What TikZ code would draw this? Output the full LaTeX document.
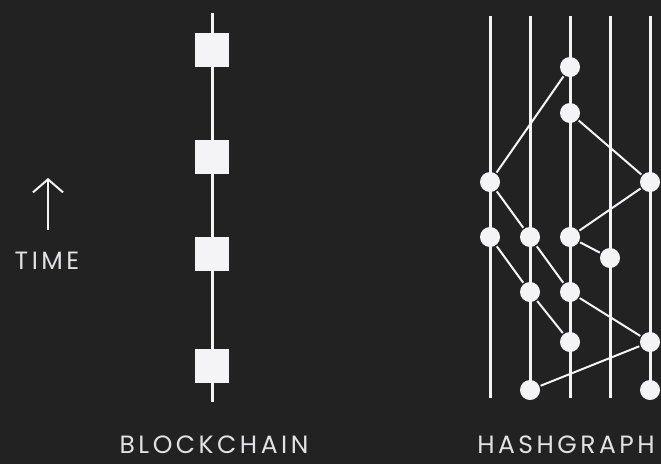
\documentclass[tikz,border=0pt]{standalone}
\usepackage{fontspec}
\setmainfont{Poppins}[LetterSpace=14]
\usetikzlibrary{arrows.meta,positioning}
\definecolor{bgdark}{HTML}{222222}
\definecolor{ink}{HTML}{F4F4F6}

\begin{document}
\begin{tikzpicture}[x=1pt,y=-1pt,line width=3pt,draw=ink,
  event/.style={circle,fill=ink,inner sep=0pt,minimum size=20pt},
  block/.style={fill=ink,inner sep=0pt,minimum size=34pt},
  gossip/.style={line width=2pt},
  caption/.style={text=ink!85!gray,font=\fontsize{25}{26}\selectfont,inner sep=0pt}]
  \fill[bgdark] (0,0) rectangle (661,464);
  \useasboundingbox (0,0) rectangle (661,464);

  % time arrow
  \coordinate (tlow) at (48,230);
  \coordinate (thigh) at (48,178);
  \draw[ink,line width=2pt,-{Straight Barb[length=13pt,width=30pt,line width=2pt]}] (tlow) -- (thigh);
  \node[caption] (time) at (47,261) {TIME};

  % blockchain
  \coordinate (ctop) at (212,13);
  \coordinate (cbot) at (212,402);
  \draw[ink] (ctop) -- (cbot);
  \node[block] (b1) at (212,50) {};
  \node[block] (b2) at (212,157) {};
  \node[block] (b3) at (212,254) {};
  \node[block] (b4) at (212,366) {};
  \node[caption] (chain) at (214,445) {BLOCKCHAIN};

  % hashgraph members
  \foreach \m/\x in {1/490,2/530,3/570,4/610,5/650}{
    \coordinate (top\m) at (\x,16);
    \coordinate (bot\m) at (\x,398);
    \draw[ink] (top\m) -- (bot\m);
  }

  % events
  \node[event] (A) at (570,67) {};
  \node[event] (B) at (570,113) {};
  \node[event] (C) at (490,182) {};
  \node[event] (D) at (650,182) {};
  \node[event] (E) at (490,237) {};
  \node[event] (F) at (530,237) {};
  \node[event] (G) at (570,237) {};
  \node[event] (H) at (610,258) {};
  \node[event] (I) at (530,292) {};
  \node[event] (J) at (570,292) {};
  \node[event] (K) at (570,342) {};
  \node[event] (L) at (650,342) {};
  \node[event] (M) at (530,390) {};
  \node[event] (N) at (650,390) {};

  \path[gossip,draw=ink]
    (C) edge (A)
    (B) edge (D)
    (C) edge (F)
    (F) edge (J)
    (D) edge (G)
    (G) edge (H)
    (E) edge (I)
    (I) edge (K)
    (J) edge (L)
    (L) edge (M)
  ;

  \node[caption] (graph) at (566,445) {HASHGRAPH};
\end{tikzpicture}
\end{document}
